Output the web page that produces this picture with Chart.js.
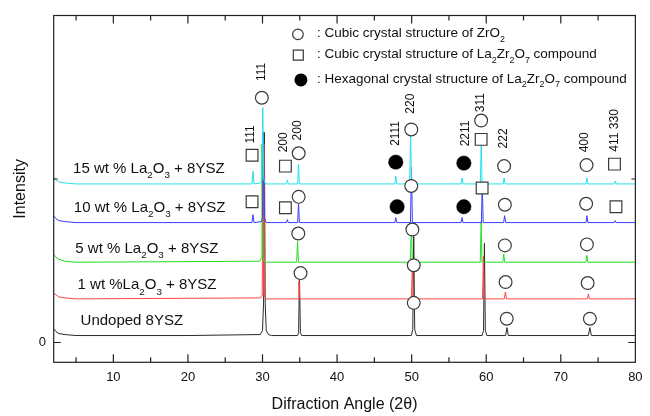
<!DOCTYPE html>
<html><head><meta charset="utf-8">
<script src="https://cdn.jsdelivr.net/npm/chart.js@4.4.1/dist/chart.umd.min.js"></script>
<style>html,body{margin:0;padding:0;background:#fff;}canvas{display:block;}</style>
</head><body>
<canvas id="c" width="650" height="416"></canvas>
<script>
// ---------- data (2θ in degrees, intensity in arbitrary offset units) ----------
const xTickValues = [10, 20, 30, 40, 50, 60, 70, 80];
const xMinorTickValues = [5, 15, 25, 35, 45, 55, 65, 75];
const yTickValues = [0];
const yTickLabels = ['0'];
const yMinorTickValues = [165];

const seriesNames = [
  'Undoped 8YSZ',
  '1 wt %La_2O_3 + 8YSZ',
  '5 wt % La_2O_3 + 8YSZ',
  '10 wt % La_2O_3 + 8YSZ',
  '15 wt % La_2O_3 + 8YSZ'
];
const seriesLabelX = [5.6, 5.2, 4.9, 4.7, 4.6];
const seriesLabelY = [23, 59, 96, 137, 177];

const undoped = [[2,14],[2.3,11],[2.7,9],[3.5,8],[5,7],[20,7],[29.7,8],[30.0,12],[30.14,40],[30.25,212],[30.36,40],[30.5,12],[30.8,8],[31.2,7],
  [34.7,7],[34.84,10],[34.96,65],[35.08,10],[35.25,7],
  [49.95,7],[50.15,13],[50.28,107],[50.41,13],[50.65,7],
  [59.45,7],[59.64,12],[59.76,100],[59.88,12],[60.1,7],
  [62.6,7],[62.78,15],[62.96,7],
  [73.7,7],[73.9,15],[74.1,7],[80,7]];
const wt1 = [[2,50],[2.3,48],[2.7,46],[3.5,45],[5,44],[29.75,45],[29.96,48],[30.08,200],[30.2,48],[30.45,44],
  [34.76,44],[34.88,62],[35.0,44],
  [49.97,44],[50.1,84],[50.23,44],
  [59.5,44],[59.62,87],[59.74,44],
  [62.43,44],[62.57,51],[62.71,44],
  [73.57,44],[73.7,49],[73.83,44],[80,44]];
const wt5 = [[2,89],[2.3,86],[2.7,84],[3.5,82],[5,81],[29.6,82],[29.81,85],[29.93,200],[30.05,85],[30.3,81],
  [34.58,81],[34.7,102],[34.82,81],
  [49.83,81],[49.96,121],[50.09,81],
  [59.2,81],[59.32,122],[59.44,81],
  [62.22,81],[62.35,89],[62.48,81],
  [73.37,81],[73.5,88],[73.63,81],[80,81]];
const wt10 = [[2,128],[2.3,125],[2.7,123],[3.5,122],[5,121],
  [28.58,121],[28.72,129],[28.86,121],
  [29.85,122],[30.01,126],[30.13,212],[30.25,126],[30.5,121],
  [33.22,121],[33.34,124],[33.46,121],
  [34.71,121],[34.83,140],[34.95,121],
  [47.74,121],[47.87,126],[48.0,121],
  [49.84,121],[49.97,177],[50.1,121],
  [56.63,121],[56.76,126],[56.89,121],
  [59.35,121],[59.47,160],[59.59,121],
  [62.33,121],[62.47,128],[62.61,121],
  [73.37,121],[73.5,128],[73.63,121],
  [77.17,121],[77.3,123],[77.43,121],[80,121]];
const wt15 = [[2,167],[2.3,164],[2.7,162],[3.5,161],[5,160],
  [28.58,160],[28.72,173],[28.86,160],
  [29.75,161],[29.92,165],[30.04,237],[30.16,165],[30.4,160],
  [33.22,160],[33.34,164],[33.46,160],
  [34.71,160],[34.83,180],[34.95,160],
  [47.74,160],[47.87,168],[48.0,160],
  [49.73,160],[49.86,209],[49.99,160],
  [56.63,160],[56.76,166],[56.89,160],
  [59.21,160],[59.33,204],[59.45,160],
  [62.27,160],[62.4,166],[62.53,160],
  [73.37,160],[73.5,166],[73.63,160],
  [77.17,160],[77.3,163],[77.43,160],[80,160]];

// phase markers
const zro2Cubic = [[29.91,247],[34.85,191],[49.95,215],[59.32,224],[62.4,178],[73.45,179],
  [34.85,147],[49.95,158],[62.5,139],[73.4,140],
  [34.8,110],[50.1,114],[62.5,98],[73.5,99],
  [35.1,70],[50.28,78],[62.6,61],[73.6,60],
  [50.28,40],[62.75,24],[73.9,24]];
const la2zr2o7Cubic = [[28.6,189],[33.07,178],[59.32,205],[77.2,180],
  [28.6,142],[33.07,136],[59.45,156],[77.4,137]];
const la2zr2o7Hex = [[47.87,182],[57.0,181],[48.05,137],[57.0,137]];

const hklLabels = ['111','111','200','200','2111','220','2211','311','222','400','411 330'];
const hklX = [29.91, 28.47, 32.83, 34.7, 47.9, 49.86, 57.26, 59.32, 62.4, 73.25, 77.2];
const hklY = [273, 210, 202, 214, 211, 241, 211, 242, 206, 202, 214];

const legendTexts = [': Cubic crystal structure of ZrO_2',
  ': Cubic crystal structure of La_2Zr_2O_7 compound',
  ': Hexagonal crystal structure of La_2Zr_2O_7 compound'];
const legendMarkerX = [34.75, 34.8, 35.15];
const legendTextX = 37.3;
const legendY = [313, 292, 267];

// ---------- styles ----------
const F = '"Liberation Sans", Arial, Helvetica, sans-serif';
const lineColors = ['#2a2a2a', '#ff4545', '#22dd22', '#3b3bff', '#25e2ea'];
const seriesData = [undoped, wt1, wt5, wt10, wt15];

const toXY = arr => arr.map(p => ({x: p[0], y: p[1]}));

const datasets = seriesData.map((d, i) => ({
  type: 'scatter', label: seriesNames[i], data: toXY(d), showLine: true,
  borderColor: lineColors[i], borderWidth: 1, pointRadius: 0, order: 5 - i, tension: 0
}));
datasets.push({type:'scatter', label:'ZrO2', data: toXY(zro2Cubic), showLine:false, pointStyle:'circle',
  pointRadius:6.4, pointBackgroundColor:'#fff', pointBorderColor:'#3a3a3a', pointBorderWidth:1.2, order:-1});
datasets.push({type:'scatter', label:'La2Zr2O7 cubic', data: toXY(la2zr2o7Cubic), showLine:false, pointStyle:'rect',
  pointRadius:8.3, pointBackgroundColor:'#fff', pointBorderColor:'#3a3a3a', pointBorderWidth:1.2, order:-1});
datasets.push({type:'scatter', label:'La2Zr2O7 hex', data: toXY(la2zr2o7Hex), showLine:false, pointStyle:'circle',
  pointRadius:7.2, pointBackgroundColor:'#000', pointBorderColor:'#000', pointBorderWidth:0.5, order:-1});

function parseRich(text) {
  const parts = []; let buf = '';
  for (let i = 0; i < text.length; i++) {
    if (text[i] === '_') { if (buf) parts.push([buf, 0]); buf = ''; parts.push([text[i+1], 1]); i++; }
    else buf += text[i];
  }
  if (buf) parts.push([buf, 0]);
  return parts;
}
function drawRich(ctx, text, x, yCenter, size) {
  const parts = parseRich(text);
  const sub = size * 0.66;
  const base = yCenter + size * 0.36;
  ctx.textAlign = 'left'; ctx.textBaseline = 'alphabetic';
  let cx = x;
  for (const [t, s] of parts) {
    ctx.font = (s ? sub : size) + 'px ' + F;
    ctx.fillText(t, cx, base + (s ? size * 0.34 : 0));
    cx += ctx.measureText(t).width;
  }
}

const decor = {
  id: 'decor',
  afterDatasetsDraw(chart) {
    const {ctx, chartArea: a, scales: {x, y}} = chart;
    ctx.save();
    // frame
    ctx.strokeStyle = '#222'; ctx.lineWidth = 1.2;
    ctx.strokeRect(a.left, a.top, a.right - a.left, a.bottom - a.top);
    // inward ticks
    ctx.beginPath();
    const tickX = (v, len) => { const p = x.getPixelForValue(v);
      ctx.moveTo(p, a.bottom); ctx.lineTo(p, a.bottom - len);
      ctx.moveTo(p, a.top); ctx.lineTo(p, a.top + len); };
    const tickY = (v, len) => { const p = y.getPixelForValue(v);
      ctx.moveTo(a.left, p); ctx.lineTo(a.left + len, p);
      ctx.moveTo(a.right, p); ctx.lineTo(a.right - len, p); };
    xTickValues.forEach(v => { if (v < 80) tickX(v, 8); });
    xMinorTickValues.forEach(v => tickX(v, 5));
    yTickValues.forEach(v => tickY(v, 7));
    yMinorTickValues.forEach(v => tickY(v, 4));
    ctx.stroke();

    ctx.fillStyle = '#111';
    // hkl labels (rotated)
    ctx.font = '12px ' + F;
    hklLabels.forEach((t, i) => {
      ctx.save();
      ctx.translate(x.getPixelForValue(hklX[i]), y.getPixelForValue(hklY[i]));
      ctx.rotate(-Math.PI / 2);
      ctx.textAlign = 'center'; ctx.textBaseline = 'middle';
      ctx.fillText(t, 0, 0);
      ctx.restore();
    });
    // series labels
    seriesNames.forEach((t, i) => drawRich(ctx, t, x.getPixelForValue(seriesLabelX[i]), y.getPixelForValue(seriesLabelY[i]), 15));
    // legend
    legendTexts.forEach((t, i) => {
      const mx = x.getPixelForValue(legendMarkerX[i]);
      const my = y.getPixelForValue(legendY[i]) + 2;
      ctx.lineWidth = 1.2; ctx.strokeStyle = '#3a3a3a';
      ctx.beginPath();
      if (i === 0) { ctx.arc(mx, my, 5.3, 0, Math.PI * 2); ctx.fillStyle = '#fff'; ctx.fill(); ctx.stroke(); }
      else if (i === 1) { ctx.fillStyle = '#fff'; ctx.rect(mx - 5, my - 5, 10, 10); ctx.fill(); ctx.stroke(); }
      else { ctx.arc(mx, my, 6.5, 0, Math.PI * 2); ctx.fillStyle = '#000'; ctx.fill(); }
      ctx.fillStyle = '#111';
      drawRich(ctx, t, x.getPixelForValue(legendTextX), y.getPixelForValue(legendY[i]), 13.5);
    });
    ctx.restore();
  }
};

new Chart(document.getElementById('c'), {
  type: 'scatter',
  data: { datasets },
  options: {
    responsive: false, animation: false, events: [],
    devicePixelRatio: 1,
    layout: { padding: { top: 12.3, right: 5.7, left: 0, bottom: 0 } },
    plugins: { legend: { display: false }, tooltip: { enabled: false } },
    scales: {
      x: {
        type: 'linear', min: 2, max: 80,
        afterBuildTicks: s => { s.ticks = xTickValues.map(v => ({value: v})); },
        afterFit: s => { s.height = 53.7; },
        grid: { display: false, drawTicks: false }, border: { display: false },
        ticks: { font: { size: 13, family: F }, color: '#111', padding: 7.4, maxRotation: 0, autoSkip: false },
        title: { display: true, text: 'Difraction Angle (2θ)', font: { size: 16, family: F }, color: '#111', padding: { top: 0, bottom: 1.4 } }
      },
      y: {
        type: 'linear', min: -20, max: 330,
        afterBuildTicks: s => { s.ticks = yTickValues.map(v => ({value: v})); },
        afterFit: s => { s.width = 53.7; },
        grid: { display: false, drawTicks: false }, border: { display: false },
        ticks: { font: { size: 13, family: F }, color: '#111', padding: 7.7, callback: (v, i) => yTickLabels[i] },
        title: { display: true, text: 'Intensity', font: { size: 16, family: F }, color: '#111', padding: { top: 11.4, bottom: 0 } }
      }
    }
  },
  plugins: [decor]
});
</script>
</body></html>
